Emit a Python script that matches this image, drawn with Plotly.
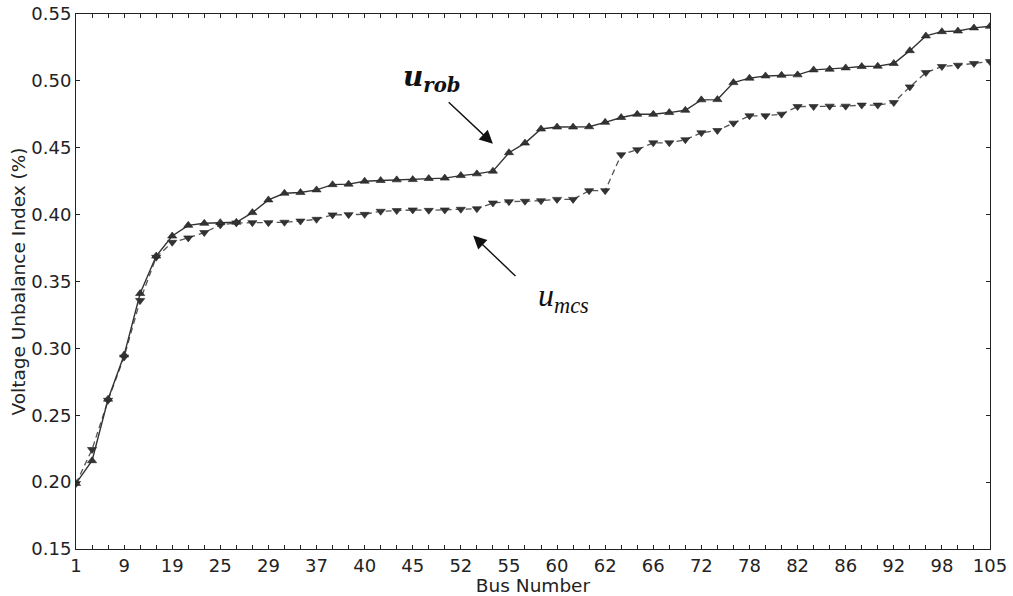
import plotly.graph_objects as go

# Buses sorted by increasing unbalance index (58 sampled buses)
bus_tick_labels = ["1", "9", "19", "25", "29", "37", "40", "45", "52", "55",
                   "60", "62", "66", "72", "78", "82", "86", "92", "98", "105"]
label_every = 3

u_rob = [0.199, 0.216, 0.262, 0.295, 0.341, 0.369, 0.384, 0.392, 0.3935, 0.394,
         0.3943, 0.4015, 0.411, 0.416, 0.4165, 0.4185, 0.4224, 0.4228, 0.425, 0.4255,
         0.426, 0.4262, 0.427, 0.4273, 0.4292, 0.4305, 0.4325, 0.4463, 0.4535, 0.464,
         0.4655, 0.4655, 0.4657, 0.469, 0.4726, 0.475, 0.475, 0.4763, 0.478, 0.4858,
         0.486, 0.4987, 0.502, 0.5037, 0.5042, 0.5045, 0.5082, 0.5087, 0.5097, 0.5107,
         0.511, 0.513, 0.5226, 0.5336, 0.5368, 0.5373, 0.5396, 0.5408]

u_mcs = [0.199, 0.2244, 0.2612, 0.2935, 0.3358, 0.3681, 0.3793, 0.3826, 0.3866, 0.3923,
         0.3938, 0.394, 0.394, 0.3943, 0.3952, 0.3965, 0.3998, 0.400, 0.4002, 0.4025,
         0.403, 0.4035, 0.4032, 0.4035, 0.404, 0.4044, 0.4087, 0.4097, 0.410, 0.4104,
         0.4114, 0.4114, 0.4179, 0.4179, 0.4448, 0.4485, 0.4537, 0.4537, 0.456, 0.4612,
         0.4629, 0.4684, 0.4739, 0.4739, 0.4751, 0.4808, 0.4808, 0.4811, 0.4811, 0.4819,
         0.4819, 0.4838, 0.4955, 0.5062, 0.5107, 0.5117, 0.513, 0.5144]

y_ticks = [0.15, 0.20, 0.25, 0.30, 0.35, 0.40, 0.45, 0.50, 0.55]

n = len(u_rob)
x = list(range(n))
tick_text = []
for i in range(n):
    tick_text.append(bus_tick_labels[i // label_every] if i % label_every == 0 else "")

fig = go.Figure()
fig.add_trace(go.Scatter(
    x=x, y=u_mcs, mode="lines+markers", name="u_mcs",
    line=dict(color="#555555", width=1.3, dash="6px,4px"),
    marker=dict(symbol="triangle-down", size=8, color="#333333",
                line=dict(color="#222222", width=0.6)),
))
fig.add_trace(go.Scatter(
    x=x, y=u_rob, mode="lines+markers", name="u_rob",
    line=dict(color="#333333", width=1.4),
    marker=dict(symbol="triangle-up", size=8, color="#333333",
                line=dict(color="#222222", width=0.6)),
))

tick_font = dict(family="DejaVu Sans", size=18, color="#222222")
title_font = dict(family="DejaVu Sans", size=18.5, color="#222222")

fig.update_layout(
    width=1013, height=596,
    margin=dict(l=76, r=23, t=14, b=47),
    paper_bgcolor="white", plot_bgcolor="white",
    showlegend=False,
    font=tick_font,
    xaxis=dict(
        range=[0, n - 1], tickmode="array", tickvals=x, ticktext=tick_text,
        ticks="inside", ticklen=4, tickwidth=1, tickcolor="#222222",
        showline=True, linecolor="#222222", linewidth=1, mirror="ticks",
        showgrid=False, zeroline=False, tickfont=tick_font, automargin=False,
        title=dict(text="Bus Number", font=title_font, standoff=0),
    ),
    yaxis=dict(
        range=[0.15, 0.55], tickmode="array", tickvals=y_ticks,
        ticktext=[f"{v:.2f}" for v in y_ticks],
        ticks="inside", ticklen=4, tickwidth=1, tickcolor="#222222",
        showline=True, linecolor="#222222", linewidth=1, mirror="ticks",
        showgrid=False, zeroline=False, tickfont=tick_font, automargin=False,
        title=dict(text="Voltage Unbalance Index (%)", font=title_font, standoff=0),
    ),
)

# Curve labels with pointing arrows
fig.add_annotation(
    x=26.0, y=0.453, ax=23.15, ay=0.485, xref="x", yref="y", axref="x", ayref="y",
    showarrow=True, arrowhead=2, arrowsize=1.9, arrowwidth=1.4, arrowcolor="#111111",
    text="",
)
fig.add_annotation(
    x=24.77, y=0.3843, ax=27.5, ay=0.353, xref="x", yref="y", axref="x", ayref="y",
    showarrow=True, arrowhead=2, arrowsize=1.9, arrowwidth=1.4, arrowcolor="#111111",
    text="",
)
fig.add_annotation(
    x=22.2, y=0.502, xref="x", yref="y", showarrow=False,
    text="<b><i>u</i></b><sub><b><i>rob</i></b></sub>",
    font=dict(family="DejaVu Serif", size=28, color="#111111"),
)
fig.add_annotation(
    x=30.4, y=0.338, xref="x", yref="y", showarrow=False,
    text="<i>u</i><sub><i>mcs</i></sub>",
    font=dict(family="Liberation Serif", size=32, color="#111111"),
)

fig.write_html("out.html")
